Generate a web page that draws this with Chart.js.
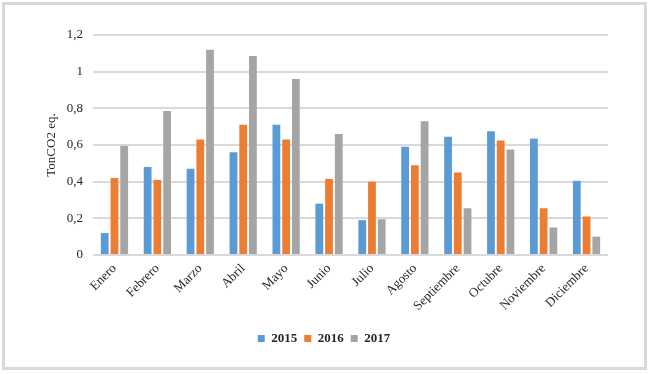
<!DOCTYPE html>
<html>
<head>
<meta charset="utf-8">
<script src="https://cdn.jsdelivr.net/npm/chart.js@4"></script>
<style>
    body { margin: 0; background: #fff; }
    #frame { position: absolute; left: 2px; top: 2px; width: 645px; height: 368px; border: 3px solid #d9d9d9; box-sizing: border-box; }
    #wrap { position: absolute; left: 0; top: 0; width: 650px; height: 374px; }
</style>
</head>
<body>
<div id="frame"></div>
<div id="wrap"><canvas id="c"></canvas></div>
<script>
var meses = ["Enero", "Febrero", "Marzo", "Abril", "Mayo", "Junio", "Julio", "Agosto", "Septiembre", "Octubre", "Noviembre", "Diciembre"];
var valores2015 = [0.12, 0.48, 0.47, 0.56, 0.71, 0.28, 0.19, 0.59, 0.645, 0.675, 0.635, 0.405];
var valores2016 = [0.42, 0.41, 0.63, 0.71, 0.63, 0.415, 0.40, 0.49, 0.45, 0.625, 0.255, 0.21];
var valores2017 = [0.595, 0.785, 1.12, 1.085, 0.96, 0.66, 0.195, 0.73, 0.255, 0.575, 0.15, 0.10];
var yTicks = ["0", "0,2", "0,4", "0,6", "0,8", "1", "1,2"];

Chart.defaults.font.family = "'Liberation Serif', 'Times New Roman', serif";
Chart.defaults.font.size = 13;
Chart.defaults.color = "#262626";

function serie(label, values, color) {
    return {
        label: label,
        data: values,
        backgroundColor: color,
        borderWidth: 0,
        categoryPercentage: 0.68,
        barPercentage: 0.8
    };
}

var canvas = document.getElementById("c");
new Chart(canvas, {
    type: "bar",
    data: {
        labels: meses,
        datasets: [
            serie("2015", valores2015, "#5b9bd5"),
            serie("2016", valores2016, "#ed7d31"),
            serie("2017", valores2017, "#a5a5a5")
        ]
    },
    options: {
        responsive: true,
        maintainAspectRatio: false,
        animation: false,
        layout: { padding: { left: 40, right: 42, top: 35, bottom: 19 } },
        scales: {
            x: {
                grid: { display: false, drawTicks: false },
                border: { display: false },
                ticks: { maxRotation: 45, minRotation: 45, padding: 6, autoSkip: false },
                afterFit: function (scale) { scale.height = 70; }
            },
            y: {
                min: 0,
                max: 1.2,
                ticks: {
                    stepSize: 0.2,
                    padding: 10,
                    callback: function (value, index) { return yTicks[index]; }
                },
                grid: { color: "#d9d9d9", lineWidth: 2, drawTicks: false },
                border: { display: false },
                title: { display: true, text: "TonCO2 eq.", padding: { top: 4, bottom: 4 } },
                afterFit: function (scale) { scale.width = 53; }
            }
        },
        plugins: {
            legend: {
                position: "bottom",
                labels: { boxWidth: 7, boxHeight: 7, padding: 7, font: { weight: "bold", size: 13 } }
            },
            tooltip: { enabled: false }
        }
    }
});
</script>
</body>
</html>
